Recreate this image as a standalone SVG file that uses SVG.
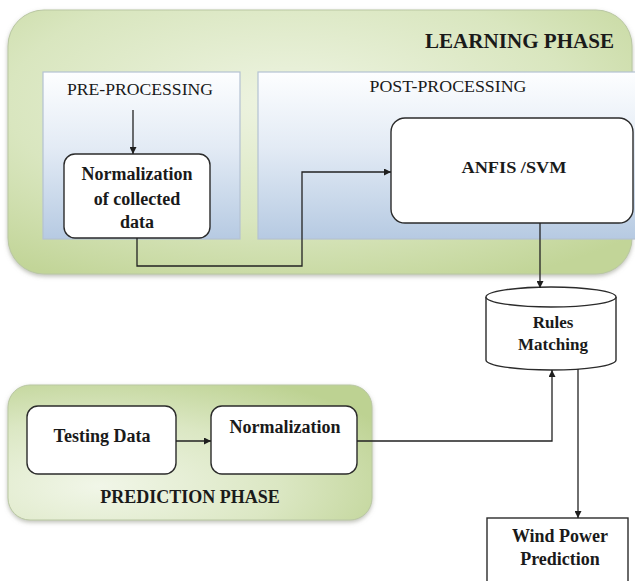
<svg xmlns="http://www.w3.org/2000/svg" width="635" height="581" viewBox="0 0 635 581">
  <defs>
    <radialGradient id="greenLearn" cx="0.45" cy="0.35" r="0.75">
      <stop offset="0" stop-color="#eef4e2"/>
      <stop offset="0.6" stop-color="#d9e6bf"/>
      <stop offset="1" stop-color="#c2d598"/>
    </radialGradient>
    <radialGradient id="greenPredict" cx="0.25" cy="0.75" r="0.9">
      <stop offset="0" stop-color="#f1f6e8"/>
      <stop offset="0.55" stop-color="#dbe7c3"/>
      <stop offset="1" stop-color="#bdd292"/>
    </radialGradient>
    <linearGradient id="bluePanel" x1="0" y1="0" x2="0" y2="1">
      <stop offset="0" stop-color="#fdfeff"/>
      <stop offset="0.45" stop-color="#e3ebf5"/>
      <stop offset="1" stop-color="#b6cae2"/>
    </linearGradient>
    <filter id="softShadow" x="-5%" y="-5%" width="110%" height="115%">
      <feDropShadow dx="0" dy="2" stdDeviation="2" flood-color="#8a8f80" flood-opacity="0.55"/>
    </filter>
    <marker id="arrow" viewBox="0 0 10 10" refX="10" refY="5" markerWidth="7" markerHeight="7" markerUnits="userSpaceOnUse" orient="auto">
      <path d="M0,0 L10,5 L0,10 z" fill="#1e1e1e"/>
    </marker>
  </defs>
  <style>
    .phase { stroke: #b9c7a2; stroke-width: 1; }
    .panel { fill: url(#bluePanel); stroke: #b4c2d2; stroke-width: 1.2; }
    .box { fill: #ffffff; stroke: #2b2b2b; stroke-width: 1.4; }
    .lbl { font-family: "Liberation Serif", "Times New Roman", serif; fill: #1a1a1a; }
    .b { font-weight: bold; }
    .conn { fill: none; stroke: #222222; stroke-width: 1.3; }
  </style>

  <rect width="635" height="581" fill="#ffffff"/>

  <!-- learning phase container -->
  <g id="learning-phase">
    <rect class="phase" x="8" y="10" width="624" height="264" rx="36" ry="36" fill="url(#greenLearn)" filter="url(#softShadow)"/>
    <text class="lbl b" x="614" y="48" font-size="20" text-anchor="end" textLength="189" lengthAdjust="spacingAndGlyphs">LEARNING PHASE</text>
  </g>

  <g id="pre-processing">
    <rect class="panel" x="43" y="72" width="197" height="167"/>
    <text class="lbl" x="140" y="95" font-size="17.5" text-anchor="middle" textLength="146" lengthAdjust="spacingAndGlyphs">PRE-PROCESSING</text>
  </g>

  <g id="post-processing">
    <rect class="panel" x="258" y="72" width="380" height="167"/>
    <text class="lbl" x="448" y="92" font-size="17.5" text-anchor="middle" textLength="157" lengthAdjust="spacingAndGlyphs">POST-PROCESSING</text>
  </g>

  <g id="normalization-collected">
    <rect class="box" x="64" y="154" width="146" height="84" rx="11" ry="11"/>
    <text class="lbl b" x="137" y="180" font-size="18" text-anchor="middle">Normalization</text>
    <text class="lbl b" x="137" y="205" font-size="18" text-anchor="middle">of collected</text>
    <text class="lbl b" x="137" y="228" font-size="18" text-anchor="middle">data</text>
  </g>

  <g id="anfis-svm">
    <rect class="box" x="391" y="118" width="242" height="105" rx="14" ry="14"/>
    <text class="lbl b" x="514" y="173" font-size="17" text-anchor="middle" textLength="105" lengthAdjust="spacingAndGlyphs">ANFIS /SVM</text>
  </g>

  <!-- prediction phase container -->
  <g id="prediction-phase">
    <rect class="phase" x="8" y="385" width="364" height="135" rx="22" ry="22" fill="url(#greenPredict)" filter="url(#softShadow)"/>
    <text class="lbl b" x="190" y="503" font-size="18" text-anchor="middle">PREDICTION PHASE</text>
  </g>

  <g id="testing-data">
    <rect class="box" x="27" y="406" width="149" height="68" rx="11" ry="11"/>
    <text class="lbl b" x="102" y="442" font-size="18" text-anchor="middle">Testing Data</text>
  </g>

  <g id="normalization">
    <rect class="box" x="211" y="406" width="146" height="68" rx="11" ry="11"/>
    <text class="lbl b" x="285" y="433" font-size="18" text-anchor="middle">Normalization</text>
  </g>

  <g id="rules-matching">
    <path class="box" d="M486,297 L486,360 A65,10 0 0 0 616,360 L616,297 A65,10 0 0 0 486,297 Z"/>
    <path class="box" fill="none" d="M486,297 A65,10 0 0 0 616,297"/>
    <text class="lbl b" x="553" y="328" font-size="17" text-anchor="middle">Rules</text>
    <text class="lbl b" x="553" y="350" font-size="17" text-anchor="middle">Matching</text>
  </g>

  <g id="wind-power-prediction">
    <rect class="box" x="487" y="518" width="141" height="80"/>
    <text class="lbl b" x="560" y="542" font-size="18" text-anchor="middle">Wind Power</text>
    <text class="lbl b" x="560" y="565" font-size="18" text-anchor="middle">Prediction</text>
  </g>

  <g id="connectors">
    <line class="conn" x1="133" y1="110" x2="133" y2="154" marker-end="url(#arrow)"/>
    <polyline class="conn" points="137,238 137,266 302,266 302,172 391,172" marker-end="url(#arrow)"/>
    <line class="conn" x1="540" y1="223" x2="540" y2="288" marker-end="url(#arrow)"/>
    <polyline class="conn" points="357,441 552,441 552,370" marker-end="url(#arrow)"/>
    <line class="conn" x1="578" y1="369" x2="578" y2="518" marker-end="url(#arrow)"/>
    <line class="conn" x1="176" y1="441" x2="211" y2="441" marker-end="url(#arrow)"/>
  </g>
</svg>
